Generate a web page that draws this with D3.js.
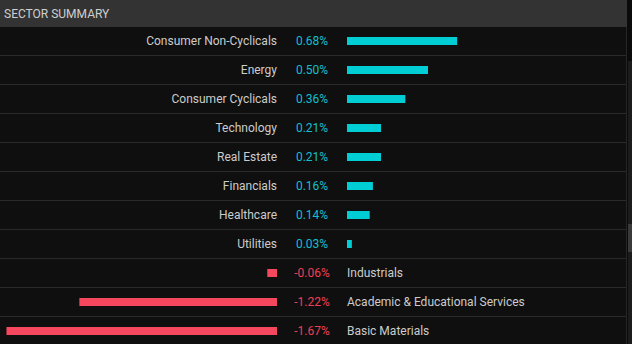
<!DOCTYPE html>
<html>
<head>
<meta charset="utf-8">
<script src="https://cdn.jsdelivr.net/npm/d3@7"></script>
<style>
  html, body { margin: 0; padding: 0; background: #0b0b0b; overflow: hidden; }
  svg { display: block; }
</style>
</head>
<body>
<svg id="chart" width="632" height="344"></svg>
<script>
const title = "SECTOR SUMMARY";
const categories = [
  "Consumer Non-Cyclicals", "Energy", "Consumer Cyclicals", "Technology",
  "Real Estate", "Financials", "Healthcare", "Utilities", "Industrials",
  "Academic & Educational Services", "Basic Materials"
];
const values = [0.68, 0.50, 0.36, 0.21, 0.21, 0.16, 0.14, 0.03, -0.06, -1.22, -1.67];

const W = 632, H = 344;
const panelRight = 627;
const headerH = 27;
const rowH = 29;
const zeroLeft = 277, zeroRight = 347, valueX = 312;
const posColor = "#00cdd4", negColor = "#f5485e";
const posText = "#12bfd0", negText = "#ef3f56";
const font = "Roboto, 'Open Sans', sans-serif";

const svg = d3.select("#chart");

// background
svg.append("rect").attr("x", 0).attr("y", 0).attr("width", W).attr("height", H).attr("fill", "#0b0b0b");
svg.append("rect").attr("x", 0).attr("y", headerH).attr("width", panelRight - 1).attr("height", H - headerH).attr("fill", "#0f0f0f");

// header
svg.append("rect").attr("x", 0).attr("y", 0).attr("width", panelRight).attr("height", headerH).attr("fill", "#333333");
svg.append("text").attr("x", 4).attr("y", headerH / 2).attr("dy", "0.36em")
  .attr("fill", "#cfcfcf").attr("font-family", font).attr("font-size", 12).attr("font-weight", 400)
  .text(title);

// scrollbar strip
svg.append("rect").attr("x", panelRight - 1).attr("y", headerH).attr("width", 1).attr("height", H - headerH).attr("fill", "#262626");
svg.append("rect").attr("x", 628).attr("y", 61).attr("width", 4).attr("height", H - 61).attr("fill", "#1c1c1c");
svg.append("rect").attr("x", 628).attr("y", 224).attr("width", 4).attr("height", 28).attr("fill", "#3a3a3a");

const y = d3.scaleBand().domain(categories).range([headerH, headerH + rowH * categories.length]).paddingInner(0);
const len = d3.scaleLinear().domain([0, 1]).range([0, 162]);

const rows = svg.selectAll("g.row").data(categories.map((c, i) => ({ c, v: values[i] })))
  .enter().append("g").attr("class", "row")
  .attr("transform", d => `translate(0,${y(d.c)})`);

// separator line at bottom of each row
rows.append("rect").attr("x", 0).attr("y", rowH - 1).attr("width", panelRight - 1).attr("height", 1).attr("fill", "#2a2a2a");

const cy = (rowH - 1) / 2;

rows.append("rect")
  .attr("x", d => d.v >= 0 ? zeroRight : zeroLeft - len(-d.v))
  .attr("y", cy - 4)
  .attr("width", d => len(Math.abs(d.v)))
  .attr("height", 8)
  .attr("fill", d => d.v >= 0 ? posColor : negColor);

const fmt = d3.formatLocale({ decimal: ".", thousands: ",", grouping: [3], currency: ["", ""], minus: "-" }).format(".2f");

rows.append("text")
  .attr("x", valueX).attr("y", cy).attr("dy", "0.36em").attr("text-anchor", "middle")
  .attr("fill", d => d.v >= 0 ? posText : negText)
  .attr("font-family", font).attr("font-size", 12)
  .text(d => fmt(d.v) + "%");

rows.append("text")
  .attr("x", d => d.v >= 0 ? zeroLeft : zeroRight)
  .attr("y", cy).attr("dy", "0.36em")
  .attr("text-anchor", d => d.v >= 0 ? "end" : "start")
  .attr("fill", "#cccccc")
  .attr("font-family", font).attr("font-size", 12)
  .text(d => d.c);
</script>
</body>
</html>
